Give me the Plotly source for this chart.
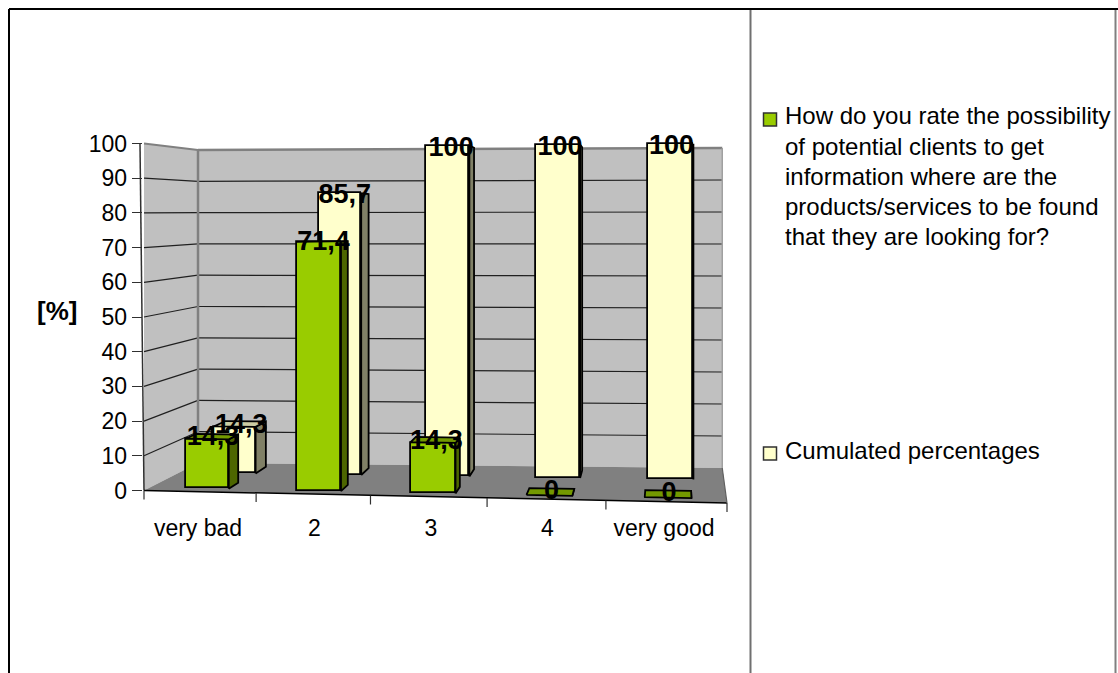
import plotly.graph_objects as go

categories = ["very bad", "2", "3", "4", "very good"]
rating_pct = [14.3, 71.4, 14.3, 0, 0]
cumulated_pct = [14.3, 85.7, 100, 100, 100]
y_ticks = [0, 10, 20, 30, 40, 50, 60, 70, 80, 90, 100]
legend_rating = ["How do you rate the possibility", "of potential clients to get",
                 "information where are the", "products/services to be found",
                 "that they are looking for?"]
legend_cumulated = ["Cumulated percentages"]

W, H = 1118, 673
L, R, T, B = 132, 750, 130, 512
PX_PER_CAT, CAT0_PX = 116.5, 198.0
PX_PER_VAL, ZERO_PX = 3.47, 490.5

GREEN, GREEN_SIDE, GREEN_TOP = "#99CC00", "#4D6600", "#739900"
CREAM, CREAM_SIDE, CREAM_TOP = "#FFFFCC", "#808066", "#CCCCA3"
FONT = "Liberation Sans, Arial, sans-serif"


# Oblique view of the box: category position u 0..5, depth d 0..1, value v
def page(u, d, v):
    x_front = 144 + 111.0 * u + 1.12 * u * u
    x_back = 198 + 98.0 * u + 1.37 * u * u
    y_front = 490.5 + 2.5 * u
    y_back = 463 + 1.0 * u
    scale_front = 3.47 + 0.042 * u
    scale_back = 3.13 + 0.014 * u
    scale = scale_front + (scale_back - scale_front) * d
    return x_front + (x_back - x_front) * d, y_front + (y_back - y_front) * d - scale * v


def to_axis(px, py):
    return (px - CAT0_PX) / PX_PER_CAT, (ZERO_PX - py) / PX_PER_VAL


def proj(u, d, v):
    return to_axis(*page(u, d, v))


def poly_path(points):
    return "M " + " L ".join(f"{x:.4f},{y:.4f}" for x, y in points) + " Z"


def px_x(p):
    return (p - L) / (R - L)


def px_y(p):
    return (B - p) / (B - T)


shapes = []
# walls and floor
shapes.append(dict(type="path", layer="below", line=dict(width=0), fillcolor="#C0C0C0",
                   path=poly_path([proj(0, 0, 0), proj(0, 1, 0), proj(0, 1, 100), proj(0, 0, 100)])))
shapes.append(dict(type="path", layer="below", line=dict(width=0), fillcolor="#C0C0C0",
                   path=poly_path([proj(0, 1, 0), proj(5, 1, 0), proj(5, 1, 100), proj(0, 1, 100)])))
shapes.append(dict(type="path", layer="below", line=dict(width=0), fillcolor="#808080",
                   path=poly_path([proj(0, 0, 0), proj(5, 0, 0), proj(5, 1, 0), proj(0, 1, 0)])))


def seg(p, q, color="#000000", width=1.0):
    shapes.append(dict(type="line", layer="below", x0=p[0], y0=p[1], x1=q[0], y1=q[1],
                       line=dict(color=color, width=width)))


for v in y_ticks[1:-1]:
    seg(proj(0, 0, v), proj(0, 1, v), "#202020", 1.2)
    seg(proj(0, 1, v), proj(5, 1, v), "#202020", 1.2)
seg(proj(0, 0, 100), proj(0, 1, 100), "#808080", 2)
seg(proj(0, 1, 100), proj(5, 1, 100), "#808080", 2.5)
seg(proj(0, 1, 0), proj(0, 1, 100), "#808080", 2.5)
seg(proj(5, 1, 0), proj(5, 1, 100), "#A0A0A0", 1.5)
seg(proj(0, 0, 0), (proj(0, 0, 0)[0] - 4 / PX_PER_CAT, proj(0, 0, 100)[1]), "#303030", 1.5)
seg(proj(0, 0, 0), proj(5, 0, 0), "#000000", 1.5)
seg(proj(5, 0, 0), proj(5, 1, 0), "#606060", 1.2)
# ticks between the categories, below the front edge of the floor
for i in range(6):
    a = page(i, 0, 0)
    seg(to_axis(*a), to_axis(a[0], a[1] + 9), "#303030", 1.2)

# frame of the whole picture and divider of the legend panel
for x0, y0, x1, y1, col in [(9, 9, 9, 673, "#000000"), (1115.5, 9, 1115.5, 673, "#808080"),
                            (750.5, 9, 750.5, 673, "#707070"), (9, 9, 1118, 9, "#000000")]:
    shapes.append(dict(type="line", xref="paper", yref="paper", x0=px_x(x0), y0=px_y(y0), x1=px_x(x1), y1=px_y(y1),
                       line=dict(color=col, width=2)))

fig = go.Figure()
SERIES = [
    ("Cumulated percentages", cumulated_pct, 0.66, 0.89, 0.335, 0.735, CREAM, CREAM_SIDE, CREAM_TOP),
    ("How do you rate the possibility", rating_pct, 0.12, 0.33, 0.32, 0.71, GREEN, GREEN_SIDE, GREEN_TOP),
]
OUTLINE = dict(color="#000000", width=1.8)
LABEL_DROP_PX = 2
label_x, label_y, label_t = [], [], []
for name, values, d0, d1, U0, U1, face, side, top in SERIES:
    xs, ws, bases, hs = [], [], [], []
    for i, v in enumerate(values):
        bl, br = proj(i + U0, d0, 0), proj(i + U1, d0, 0)
        tl, tr = proj(i + U0, d0, v), proj(i + U1, d0, v)
        xs.append((bl[0] + br[0]) / 2)
        ws.append(br[0] - bl[0])
        bases.append((bl[1] + br[1]) / 2)
        hs.append((tl[1] + tr[1]) / 2 - (bl[1] + br[1]) / 2)
    fig.add_trace(go.Bar(x=xs, y=hs, base=bases, width=ws, name=name, marker=dict(color=face, line=OUTLINE),
                         customdata=values, hovertemplate="%{customdata}<extra>" + name[:20] + "</extra>",
                         showlegend=False))
    for i, v in enumerate(values):
        # side face
        pts = [proj(i + U1, d0, 0), proj(i + U1, d1, 0), proj(i + U1, d1, v), proj(i + U1, d0, v), proj(i + U1, d0, 0)]
        fig.add_trace(go.Scatter(x=[p[0] for p in pts], y=[p[1] for p in pts], mode="lines", fill="toself",
                                 fillcolor=side, line=OUTLINE, hoverinfo="skip", showlegend=False, cliponaxis=False))
        # top face, seen only where it rises above the front edge
        pts = [proj(i + U0, d0, v), proj(i + U1, d0, v), proj(i + U1, d1, v), proj(i + U0, d1, v), proj(i + U0, d0, v)]
        if pts[2][1] > pts[1][1]:
            fig.add_trace(go.Scatter(x=[p[0] for p in pts], y=[p[1] for p in pts], mode="lines", fill="toself",
                                     fillcolor=top, line=OUTLINE, hoverinfo="skip", showlegend=False, cliponaxis=False))
        c = page(i + (U0 + U1) / 2, (d0 + d1) / 2, v)
        c = to_axis(c[0] + 1, c[1] + (LABEL_DROP_PX if v else 0))
        label_x.append(c[0])
        label_y.append(c[1])
        label_t.append(f"{v:g}".replace(".", ","))

fig.add_trace(go.Scatter(x=label_x, y=label_y, text=label_t, mode="text", textposition="middle center",
                         textfont=dict(family=FONT, size=27, color="#000000"), texttemplate="<b>%{text}</b>",
                         hoverinfo="skip", showlegend=False, cliponaxis=False))

# legend panel
annotations = [dict(text="<b>[%]</b>", xref="paper", yref="paper", x=px_x(57), y=px_y(311), showarrow=False,
                    xanchor="center", yanchor="middle", font=dict(family=FONT, size=26, color="#000000"))]
swatches = [(legend_rating, 116, GREEN), (legend_cumulated, 450, CREAM)]
for lines, y0, col in swatches:
    shapes.append(dict(type="rect", xref="paper", yref="paper", x0=px_x(763.5), x1=px_x(776.5),
                       y0=px_y(y0 + 10), y1=px_y(y0 - 3), fillcolor=col, line=dict(color="#303030", width=1.5)))
    for k, line in enumerate(lines):
        annotations.append(dict(text=line, xref="paper", yref="paper", x=px_x(782.5), y=px_y(y0 + 30 * k),
                                xanchor="left", yanchor="middle", showarrow=False,
                                font=dict(family=FONT, size=24, color="#000000")))

fig.update_layout(
    width=W, height=H, autosize=False, margin=dict(l=L, r=W - R, t=T, b=H - B),
    paper_bgcolor="#FFFFFF", plot_bgcolor="rgba(0,0,0,0)", barmode="overlay", bargap=0,
    showlegend=False, shapes=shapes, annotations=annotations,
    font=dict(family=FONT, size=23, color="#000000"),
    xaxis=dict(range=[(L - CAT0_PX) / PX_PER_CAT, (R - CAT0_PX) / PX_PER_CAT], tickmode="array",
               tickvals=list(range(len(categories))), ticktext=categories, ticks="", showgrid=False,
               zeroline=False, showline=False, tickfont=dict(family=FONT, size=23)),
    yaxis=dict(range=[(ZERO_PX - B) / PX_PER_VAL, (ZERO_PX - T) / PX_PER_VAL], tickmode="array",
               tickvals=y_ticks, ticks="inside", ticklen=10, tickwidth=1.2, tickcolor="#303030",
               ticklabelstandoff=4, showgrid=False, zeroline=False, showline=False,
               tickfont=dict(family=FONT, size=23)),
)
fig.write_html("out.html", config=dict(displayModeBar=False), post_script="document.body.style.margin='0';")
